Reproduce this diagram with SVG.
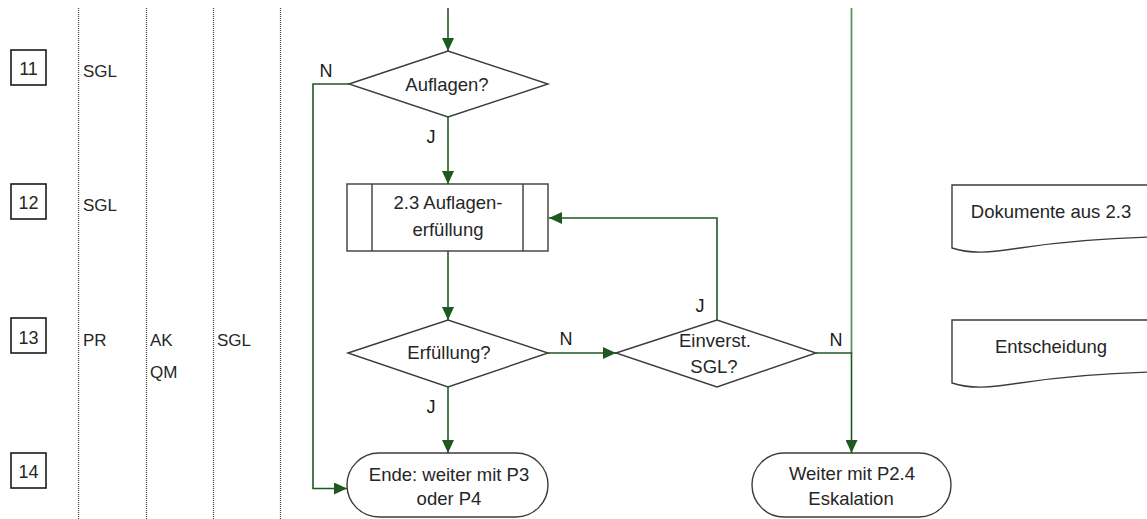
<svg xmlns="http://www.w3.org/2000/svg" width="1147" height="519" viewBox="0 0 1147 519">
<style>
text{font-family:"Liberation Sans",Arial,sans-serif;fill:#262626}
.t{font-size:18.5px;text-anchor:middle}
.lab{font-size:17px}
.num{font-size:18px;text-anchor:middle}
.yn{font-size:18px;text-anchor:middle;fill:#1a1a1a}
.shape{fill:#fff;stroke:#3c3c3c;stroke-width:1.4}
.numbox{fill:#fff;stroke:#1a1a1a;stroke-width:1.6}
.lane{stroke:#444;stroke-width:1.2;stroke-dasharray:1 1;fill:none}
.c{fill:none;stroke:#1e5a1e;stroke-width:1.6}
.cl{fill:none;stroke:#5e945e;stroke-width:1.8}
</style>
<defs>
<marker id="ah" markerUnits="userSpaceOnUse" markerWidth="14" markerHeight="12" refX="13" refY="6" orient="auto">
<path d="M0,0 L13,6 L0,12 z" fill="#1e5a1e"/>
</marker>
</defs>
<rect width="1147" height="519" fill="#fff"/>
<g id="lanes">
<line class="lane" x1="78.5" y1="8" x2="78.5" y2="519"/>
<line class="lane" x1="146.5" y1="8" x2="146.5" y2="519"/>
<line class="lane" x1="213.5" y1="8" x2="213.5" y2="519"/>
<line class="lane" x1="280.5" y1="8" x2="280.5" y2="519"/>
</g>
<g id="row11">
<rect class="numbox" x="11" y="50" width="35" height="35"/>
<text class="num" x="28.5" y="75">11</text>
<text class="lab" x="83" y="77">SGL</text>
</g>
<g id="row12">
<rect class="numbox" x="11" y="184" width="35" height="35"/>
<text class="num" x="28.5" y="209">12</text>
<text class="lab" x="83" y="211">SGL</text>
</g>
<g id="row13">
<rect class="numbox" x="11" y="318" width="35" height="35"/>
<text class="num" x="28.5" y="344">13</text>
<text class="lab" x="83" y="346">PR</text>
<text class="lab" x="150" y="346">AK</text>
<text class="lab" x="150" y="378">QM</text>
<text class="lab" x="217" y="346">SGL</text>
</g>
<g id="row14">
<rect class="numbox" x="11" y="453" width="35" height="35"/>
<text class="num" x="28.5" y="478">14</text>
</g>
<g id="connectors">
<path class="c" d="M448,8 V51" marker-end="url(#ah)"/>
<path class="c" d="M448,117 V184" marker-end="url(#ah)"/>
<path class="c" d="M349,84 H313 V488.5 H347" marker-end="url(#ah)"/>
<path class="c" d="M448,251 V320" marker-end="url(#ah)"/>
<path class="c" d="M548,353 H616" marker-end="url(#ah)"/>
<path class="c" d="M448,387 V453" marker-end="url(#ah)"/>
<path class="c" d="M717,320 V218 H549" marker-end="url(#ah)"/>
<path class="cl" d="M851.5,8 V353"/>
<path class="c" d="M816,353 H851.5 V453" marker-end="url(#ah)"/>
<text class="yn" x="326" y="77">N</text>
<text class="yn" x="431" y="143">J</text>
<text class="yn" x="566" y="345">N</text>
<text class="yn" x="431" y="413">J</text>
<text class="yn" x="700" y="312">J</text>
<text class="yn" x="836" y="346">N</text>
</g>
<g id="d_auflagen">
<polygon class="shape" points="349,84 448,51 548,84 448,117"/>
<text class="t" x="447" y="91">Auflagen?</text>
</g>
<g id="p_auflagenerfuellung">
<rect class="shape" x="347" y="184" width="201" height="67"/>
<line class="shape" x1="372" y1="184" x2="372" y2="251"/>
<line class="shape" x1="523" y1="184" x2="523" y2="251"/>
<text class="t" x="448" y="209">2.3 Auflagen-</text>
<text class="t" x="448" y="236">erfüllung</text>
</g>
<g id="d_erfuellung">
<polygon class="shape" points="348,353 448,320 548,353 448,387"/>
<text class="t" x="449" y="359">Erfüllung?</text>
</g>
<g id="d_einverst">
<polygon class="shape" points="616,353 717,320 816,353 717,387"/>
<text class="t" x="715" y="347">Einverst.</text>
<text class="t" x="714" y="373">SGL?</text>
</g>
<g id="t_ende">
<rect class="shape" x="347" y="453" width="201" height="64" rx="32" ry="32"/>
<text class="t" x="449" y="481">Ende: weiter mit P3</text>
<text class="t" x="449" y="505">oder P4</text>
</g>
<g id="t_weiter">
<rect class="shape" x="752" y="453" width="199" height="64" rx="32" ry="32"/>
<text class="t" x="852" y="480">Weiter mit P2.4</text>
<text class="t" x="851" y="505">Eskalation</text>
</g>
<g id="doc_dokumente">
<path class="shape" d="M952,185 H1152 V237 C1110,238 1060,242 1020,248 C990,253 970,254 952,248 Z"/>
<text class="t" x="1051" y="218">Dokumente aus 2.3</text>
</g>
<g id="doc_entscheidung">
<path class="shape" d="M952,320 H1152 V372 C1110,373 1060,377 1020,383 C990,388 970,389 952,383 Z"/>
<text class="t" x="1051" y="353">Entscheidung</text>
</g>
</svg>
